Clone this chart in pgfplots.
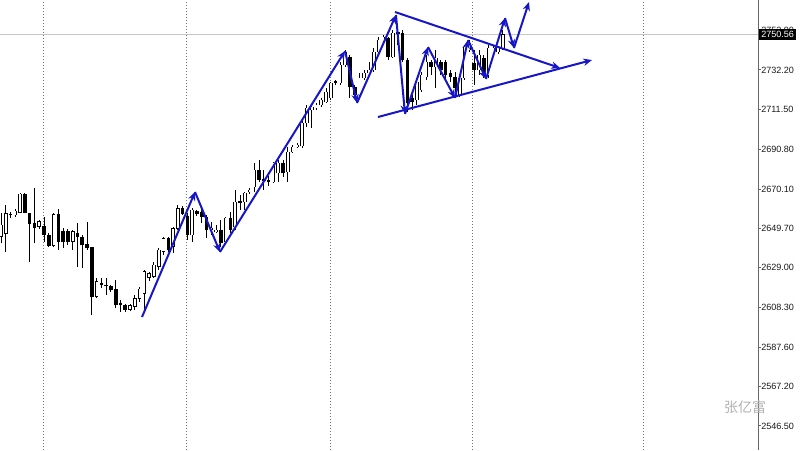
\documentclass[border=0pt]{standalone}
\usepackage{pgfplots}
\pgfplotsset{compat=1.18}
\usepackage{pgfplotstable}
\usetikzlibrary{arrows.meta}
\usepackage{fontspec}
\setmainfont{Liberation Sans}
\newfontfamily\cjk{Noto Sans CJK SC}
\definecolor{arrowblue}{RGB}{22,22,200}

\pgfplotstableread{
n o h l c
1 2645.2 2657.4 2641.8 2651.3
2 2647.0 2661.8 2637.4 2657.4
3 2656.5 2658.0 2655.0 2656.8
4 2656.5 2659.5 2655.3 2658.6
5 2657.8 2667.9 2657.4 2667.5
6 2667.5 2668.0 2657.4 2657.8
7 2657.4 2657.6 2632.2 2652.2
8 2652.2 2670.5 2641.8 2649.9
9 2650.5 2654.0 2649.5 2653.1
10 2650.8 2655.7 2642.6 2646.1
11 2646.1 2647.0 2640.0 2640.5
12 2640.5 2657.4 2640.0 2656.9
13 2656.9 2659.5 2638.3 2642.6
14 2647.9 2649.6 2639.2 2642.6
15 2647.9 2649.0 2641.0 2642.6
16 2642.6 2648.7 2638.3 2647.9
17 2647.0 2652.2 2629.6 2645.2
18 2644.9 2646.1 2628.7 2640.9
19 2641.2 2653.1 2638.3 2639.5
20 2639.5 2640.0 2604.4 2613.9
21 2613.9 2623.5 2613.1 2621.8
22 2620.9 2623.5 2618.3 2620.0
23 2620.0 2623.8 2614.8 2619.5
24 2619.2 2620.0 2616.5 2617.4
25 2617.9 2622.7 2607.9 2609.6
26 2610.5 2612.2 2606.1 2609.6
27 2609.6 2610.0 2606.0 2607.3
28 2607.3 2610.0 2606.5 2609.2
29 2608.7 2614.8 2607.0 2613.1
30 2613.1 2619.2 2611.3 2617.9
31 2615.7 2627.9 2605.3 2627.0
32 2624.0 2627.0 2622.0 2626.1
33 2624.4 2632.2 2623.5 2630.5
34 2629.6 2639.2 2627.9 2638.3
35 2637.4 2645.2 2635.7 2644.4
36 2644.4 2645.0 2637.0 2638.3
37 2640.0 2650.5 2636.6 2649.6
38 2649.6 2661.8 2648.7 2660.0
39 2660.0 2661.0 2656.5 2657.4
40 2655.7 2657.4 2643.5 2646.1
41 2646.1 2660.0 2642.6 2659.2
42 2658.3 2659.0 2656.0 2657.4
43 2658.12 2660.21 2652.38 2655.51
44 2655.51 2656.56 2644.56 2648.73
45 2648.73 2652.90 2646.12 2649.78
46 2647.69 2651.34 2647.17 2648.73
47 2648.73 2653.95 2639.86 2641.95
48 2642.47 2655.51 2641.95 2654.99
49 2654.99 2658.12 2647.17 2648.73
50 2650.30 2669.60 2648.73 2663.34
51 2663.86 2666.99 2659.16 2662.82
52 2663.34 2668.55 2659.16 2668.03
53 2668.55 2670.64 2667.51 2669.60
54 2671.16 2683.68 2668.55 2680.03
55 2680.03 2685.24 2673.77 2674.81
56 2675.33 2680.03 2669.60 2674.29
57 2674.81 2676.90 2671.68 2673.77
58 2673.77 2684.20 2673.25 2683.68
59 2678.46 2685.24 2673.77 2683.68
60 2683.68 2685.24 2676.38 2678.46
61 2678.99 2692.03 2673.77 2689.42
62 2689.42 2693.07 2688.90 2692.03
63 2692.03 2694.11 2691.50 2693.07
64 2692.55 2707.15 2691.50 2704.54
65 2704.54 2713.93 2702.46 2712.37
66 2711.32 2713.93 2701.94 2712.89
67 2712.37 2714.98 2711.32 2713.93
68 2713.93 2717.58 2712.89 2716.54
69 2715.50 2722.80 2714.98 2720.71
70 2717.58 2725.93 2716.54 2725.41
71 2726.45 2726.97 2724.36 2725.41
72 2725.41 2736.36 2724.36 2734.80
73 2734.80 2742.62 2733.75 2741.58
74 2738.97 2740.01 2717.58 2723.32
75 2723.32 2724.36 2717.58 2719.15
76 2719.15 2730.62 2718.10 2728.02
77 2728.02 2732.19 2726.97 2730.62
78 2730.62 2736.36 2729.58 2732.19
79 2732.19 2743.66 2731.14 2741.58
80 2741.58 2749.40 2741.06 2747.84
81 2747.31 2750.44 2746.27 2749.40
82 2748.88 2749.40 2737.40 2738.97
83 2738.97 2753.05 2738.45 2751.49
84 2752.01 2754.62 2745.23 2750.97
85 2751.49 2753.05 2736.36 2737.40
86 2737.40 2738.45 2710.28 2714.98
87 2717.58 2719.15 2711.32 2715.50
88 2716.54 2726.97 2713.93 2725.93
89 2721.76 2731.14 2720.71 2729.58
90 2728.54 2740.01 2726.97 2736.36
91 2736.36 2737.40 2729.58 2733.75
92 2733.75 2742.62 2722.80 2738.45
93 2736.36 2737.40 2729.58 2732.19
94 2736.36 2737.40 2726.97 2729.58
95 2730.62 2732.19 2725.93 2728.54
96 2728.54 2731.14 2720.71 2722.80
97 2719.15 2729.58 2718.10 2728.02
98 2728.02 2745.23 2726.97 2744.18
99 2742.62 2747.84 2741.58 2746.27
100 2735.84 2742.62 2724.36 2732.19
101 2732.19 2742.62 2729.58 2740.01
102 2738.45 2740.01 2728.02 2729.58
103 2729.58 2745.23 2728.02 2743.66
104 2741.06 2745.23 2740.01 2743.66
105 2741.58 2744.71 2740.53 2743.66
106 2743.66 2753.05 2742.62 2750.56
}\candles

\begin{document}
\begin{tikzpicture}
\path[use as bounding box] (0,0) rectangle (600pt,337.5pt);
\begin{axis}[
  at={(0,0)}, anchor=south west,
  width=568.5pt, height=337.5pt, scale only axis,
  xmin=0.79, xmax=159.37, ymin=2533.98, ymax=2768.7,
  clip=false,
  axis x line=none,
  axis y line*=right,
  y axis line style={black!60, line width=0.75pt, -},
  ytick={2546.50,2567.20,2587.60,2608.30,2629.00,2649.70,2670.10,2690.80,2711.50,2732.20,2752.90},
  yticklabels={2546.50,2567.20,2587.60,2608.30,2629.00,2649.70,2670.10,2690.80,2711.50,2732.20,2752.90},
  tick align=outside,
  major tick length=2.25pt,
  ytick style={black!60, line width=0.75pt},
  yticklabel style={font=\fontsize{6.8}{8}\selectfont, inner sep=0pt, anchor=west, text=black!90},
  extra y ticks={2750.56},
  extra y tick labels={2750.56},
  extra y tick style={yticklabel style={fill=black, text=white, inner xsep=1.5pt, inner ysep=1.6pt, xshift=-1.5pt}},
]
% period separators
\addplot[black!55, line width=0.75pt, dash pattern=on 0.75pt off 1.5pt] coordinates {(9.79,2533.98) (9.79,2768.7)};
\addplot[black!55, line width=0.75pt, dash pattern=on 0.75pt off 1.5pt] coordinates {(39.91,2533.98) (39.91,2768.7)};
\addplot[black!55, line width=0.75pt, dash pattern=on 0.75pt off 1.5pt] coordinates {(69.83,2533.98) (69.83,2768.7)};
\addplot[black!55, line width=0.75pt, dash pattern=on 0.75pt off 1.5pt] coordinates {(99.74,2533.98) (99.74,2768.7)};
\addplot[black!55, line width=0.75pt, dash pattern=on 0.75pt off 1.5pt] coordinates {(135.31,2533.98) (135.31,2768.7)};
% current price line
\addplot[black!22, line width=0.75pt] coordinates {(0.79,2750.56) (159.37,2750.56)};
% wicks (low to high)
\addplot[draw=none, mark=none,
  error bars/.cd, y dir=plus, y explicit, error mark=none,
  error bar style={draw=black, line width=0.75pt, solid}]
  table[x=n, y=l, y error expr={\thisrow{h}-\thisrow{l}}] {\candles};
% candle bodies: black outline / black body
\addplot[draw=none, mark=none,
  error bars/.cd, y dir=plus, y explicit, error mark=none,
  error bar style={draw=black, line width=2.7pt, line cap=butt, solid}]
  table[x=n, y expr={min(\thisrow{o},\thisrow{c})-0.2}, y error expr={abs(\thisrow{c}-\thisrow{o})+0.4}] {\candles};
% white interior of rising candles
\addplot[draw=none, mark=none,
  error bars/.cd, y dir=plus, y explicit, error mark=none,
  error bar style={draw=white, line width=1.55pt, line cap=butt, solid}]
  table[x=n, y expr={\thisrow{o}+0.2}, y error expr={max(\thisrow{c}-\thisrow{o}-0.4,0)}] {\candles};
% zigzag arrows
\pgfplotsset{zz/.style={arrowblue, line width=1.5pt, -{Stealth[length=6.5pt,width=5.5pt]}}}
\addplot[zz] coordinates {(30.50,2603.35) (41.59,2668.55)};
\addplot[zz] coordinates {(41.59,2668.55) (46.81,2637.26)};
\addplot[zz] coordinates {(46.81,2637.26) (72.97,2742.10)};
\addplot[zz] coordinates {(72.97,2742.10) (75.48,2714.98)};
\addplot[zz] coordinates {(75.48,2714.98) (83.63,2760.88)};
\addplot[zz] coordinates {(83.63,2760.88) (85.52,2709.24)};
\addplot[zz] coordinates {(85.52,2709.24) (90.33,2744.18)};
\addplot[zz] coordinates {(90.33,2744.18) (95.98,2717.58)};
\addplot[zz] coordinates {(95.98,2717.58) (98.70,2747.84)};
\addplot[zz] coordinates {(98.70,2747.84) (102.46,2727.49)};
\addplot[zz] coordinates {(102.46,2727.49) (106.44,2759.31)};
\addplot[zz] coordinates {(106.44,2759.31) (108.32,2743.66)};
\addplot[zz] coordinates {(108.32,2743.66) (111.46,2767.66)};
% triangle boundaries
\addplot[zz] coordinates {(83.43,2762.44) (117.95,2733.23)};
\addplot[zz] coordinates {(79.87,2707.67) (124.64,2737.40)};
\end{axis}
\node[text=black!30, font=\cjk\fontsize{10.5}{12}\selectfont] at (558.75pt,32.25pt) {张亿富};
\end{tikzpicture}
\end{document}
